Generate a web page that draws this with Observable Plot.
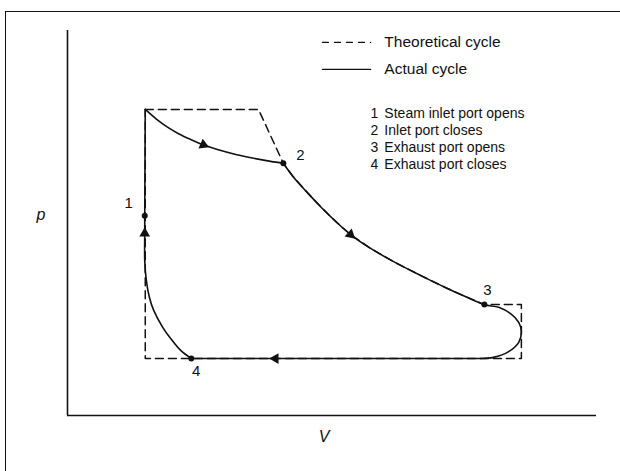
<!DOCTYPE html>
<html><head><meta charset="utf-8">
<script src="https://cdn.jsdelivr.net/npm/d3@7"></script>
<script src="https://cdn.jsdelivr.net/npm/@observablehq/plot@0.6"></script>
<style>
body{margin:0;background:#fff;}
#wrap{position:relative;width:620px;height:471px;overflow:hidden;background:#fff;}
#frame{position:absolute;left:5px;top:11px;width:640px;height:500px;border:1.6px solid #111;}
#chart{position:absolute;left:0;top:0;}
</style></head><body>
<div id="wrap"><div id="frame"></div><div id="chart"></div></div>
<script>
// ---- Data (V and p in arbitrary units, 0-100) ----
// Actual cycle (solid)
const actualV = [14.7,16.8,18.9,21.0,23.3,25.7,28.5,31.8,35.2,38.4,40.8,
  42.5,45.0,47.8,50.7,53.5,57.3,62.0,66.7,71.5,75.2,78.8,
  81.5,83.7,85.3,85.8,85.3,83.4,80.5,78.1,
  23.4,21.4,19.5,18.0,16.3,15.5,14.9,14.6,14.6,14.6,14.7];
const actualP = [79.5,77.0,74.9,73.2,71.7,70.3,69.0,67.8,66.8,66.0,65.5,
  62.3,58.4,54.3,50.4,47.0,43.4,39.7,36.4,33.2,30.9,28.8,
  28.1,26.5,24.2,21.8,19.0,16.6,15.1,14.8,
  14.8,16.9,20.0,22.9,27.3,30.6,35.1,40.3,47.3,51.9,79.5];
// Theoretical cycle (dashed)
const theoV = [14.7,36.1,40.8,42.5,45.0,47.8,50.7,53.5,57.3,62.0,66.7,71.5,75.2,78.8,85.8,85.8,14.7,14.7];
const theoP = [79.5,79.5,65.5,62.3,58.4,54.3,50.4,47.0,43.4,39.7,36.4,33.2,30.9,28.8,28.8,14.8,14.8,79.5];
// Numbered events
const eventLabels = ["1","2","3","4"];
const eventV = [14.6,40.8,78.8,23.4];
const eventP = [51.9,65.5,28.8,14.8];
const eventText = ["Steam inlet port opens","Inlet port closes","Exhaust port opens","Exhaust port closes"];
// Direction arrows (placed on the actual cycle)
const arrowV = [25.7,53.5,39.3,14.6];
const arrowP = [70.3,47.0,14.8,47.3];
const legendLabels = ["Theoretical cycle","Actual cycle"];
const axisLabelY = "p", axisLabelX = "V";

// ---- Layout ----
const W = 620, H = 471, mL = 67, mR = 24, mT = 30, mB = 56;
const kx = (W - mL - mR) / 100, ky = (H - mT - mB) / 100;
const font = "'Liberation Sans', Arial, Helvetica, sans-serif";
const labelOffsets = [[-16,-12],[17,-8],[3,-14],[5,13]]; // pixels
// pieces of the actual path: [start index, end index, curve]
const pieces = [[0,10,"catmull-rom"],[10,29,"catmull-rom"],[29,30,"linear"],[30,39,"catmull-rom"],[39,40,"linear"]];

const actual = actualV.map((v,i)=>({V:v,p:actualP[i]}));
const theo = theoV.map((v,i)=>({V:v,p:theoP[i]}));
const events = eventLabels.map((l,i)=>({label:l,V:eventV[i],p:eventP[i],text:eventText[i],
  lV:eventV[i]+labelOffsets[i][0]/kx, lP:eventP[i]-labelOffsets[i][1]/ky,row:i}));

// arrow rotation from nearest segment of the actual path
const arrows = arrowV.map((v,i)=>{
  const p = arrowP[i];
  let best = Infinity, ang = 0;
  for (let j=0;j<actual.length-1;j++){
    const a = actual[j], b = actual[j+1];
    const ax=a.V*kx, ay=a.p*ky, bx=b.V*kx, by=b.p*ky, px=v*kx, py=p*ky;
    const dx=bx-ax, dy=by-ay, L=dx*dx+dy*dy;
    if (!L) continue;
    let t=((px-ax)*dx+(py-ay)*dy)/L; t=Math.max(0,Math.min(1,t));
    const d=Math.hypot(ax+t*dx-px, ay+t*dy-py);
    if (d<best){best=d; ang=Math.atan2(dx, dy)*180/Math.PI;}
  }
  return {V:v,p:p,rot:ang};
});

// legend and key placement (data units)
const legRowsP = [96.9, 89.9];
const legSample = [48.2, 57.3];
const legTextV = 59.9;
const keyNumV = 57.3, keyTextV = 59.9;
const keyRowsP = [78.4, 74.0, 69.6, 65.2];

const legendLines = legendLabels.flatMap((l,i)=>legSample.map(v=>({V:v,p:legRowsP[i],k:l})));

const chart = Plot.plot({
  width: W, height: H,
  marginLeft: mL, marginRight: mR, marginTop: mT, marginBottom: mB,
  x: {domain:[0,100], axis:null},
  y: {domain:[0,100], axis:null},
  style: {fontFamily: font, background: "transparent", color: "#111"},
  marks: [
    Plot.ruleX([0], {stroke:"#111", strokeWidth:1.6}),
    Plot.ruleY([0], {stroke:"#111", strokeWidth:1.6}),
    Plot.text([axisLabelY], {frameAnchor:"left", dx:-31, dy:-8, fontSize:16, fontStyle:"italic", fill:"#111"}),
    Plot.text([axisLabelX], {frameAnchor:"bottom", dx:-8, dy:26, fontSize:16, fontStyle:"italic", fill:"#111"}),
    Plot.line(theo, {x:"V", y:"p", stroke:"#111", strokeWidth:1.5, strokeDasharray:"8,5", curve:"linear"}),
    ...pieces.map(([s,e,c])=>Plot.line(actual.slice(s,e+1), {x:"V", y:"p", stroke:"#111", strokeWidth:1.6, curve:c})),
    Plot.dot(arrows, {x:"V", y:"p", symbol:"triangle", r:4, fill:"#111", stroke:"none", rotate:"rot"}),
    Plot.dot(events, {x:"V", y:"p", r:3, fill:"#111", stroke:"none"}),
    Plot.text(events, {x:"lV", y:"lP", text:"label", fontSize:15, fill:"#111"}),
    // legend
    Plot.line(legendLines.filter(d=>d.k===legendLabels[0]), {x:"V", y:"p", stroke:"#111", strokeWidth:1.3, strokeDasharray:"6,6"}),
    Plot.line(legendLines.filter(d=>d.k===legendLabels[1]), {x:"V", y:"p", stroke:"#111", strokeWidth:1.3}),
    Plot.text(legendLabels, {x:()=>legTextV, y:(d,i)=>legRowsP[i], text:d=>d, textAnchor:"start", fontSize:15.5, fill:"#111"}),
    // key
    Plot.text(events, {x:()=>keyNumV, y:d=>keyRowsP[d.row], text:"label", textAnchor:"start", fontSize:14, fill:"#111"}),
    Plot.text(events, {x:()=>keyTextV, y:d=>keyRowsP[d.row], text:"text", textAnchor:"start", fontSize:14, fill:"#111"})
  ]
});
document.getElementById("chart").appendChild(chart);
</script>
</body></html>
